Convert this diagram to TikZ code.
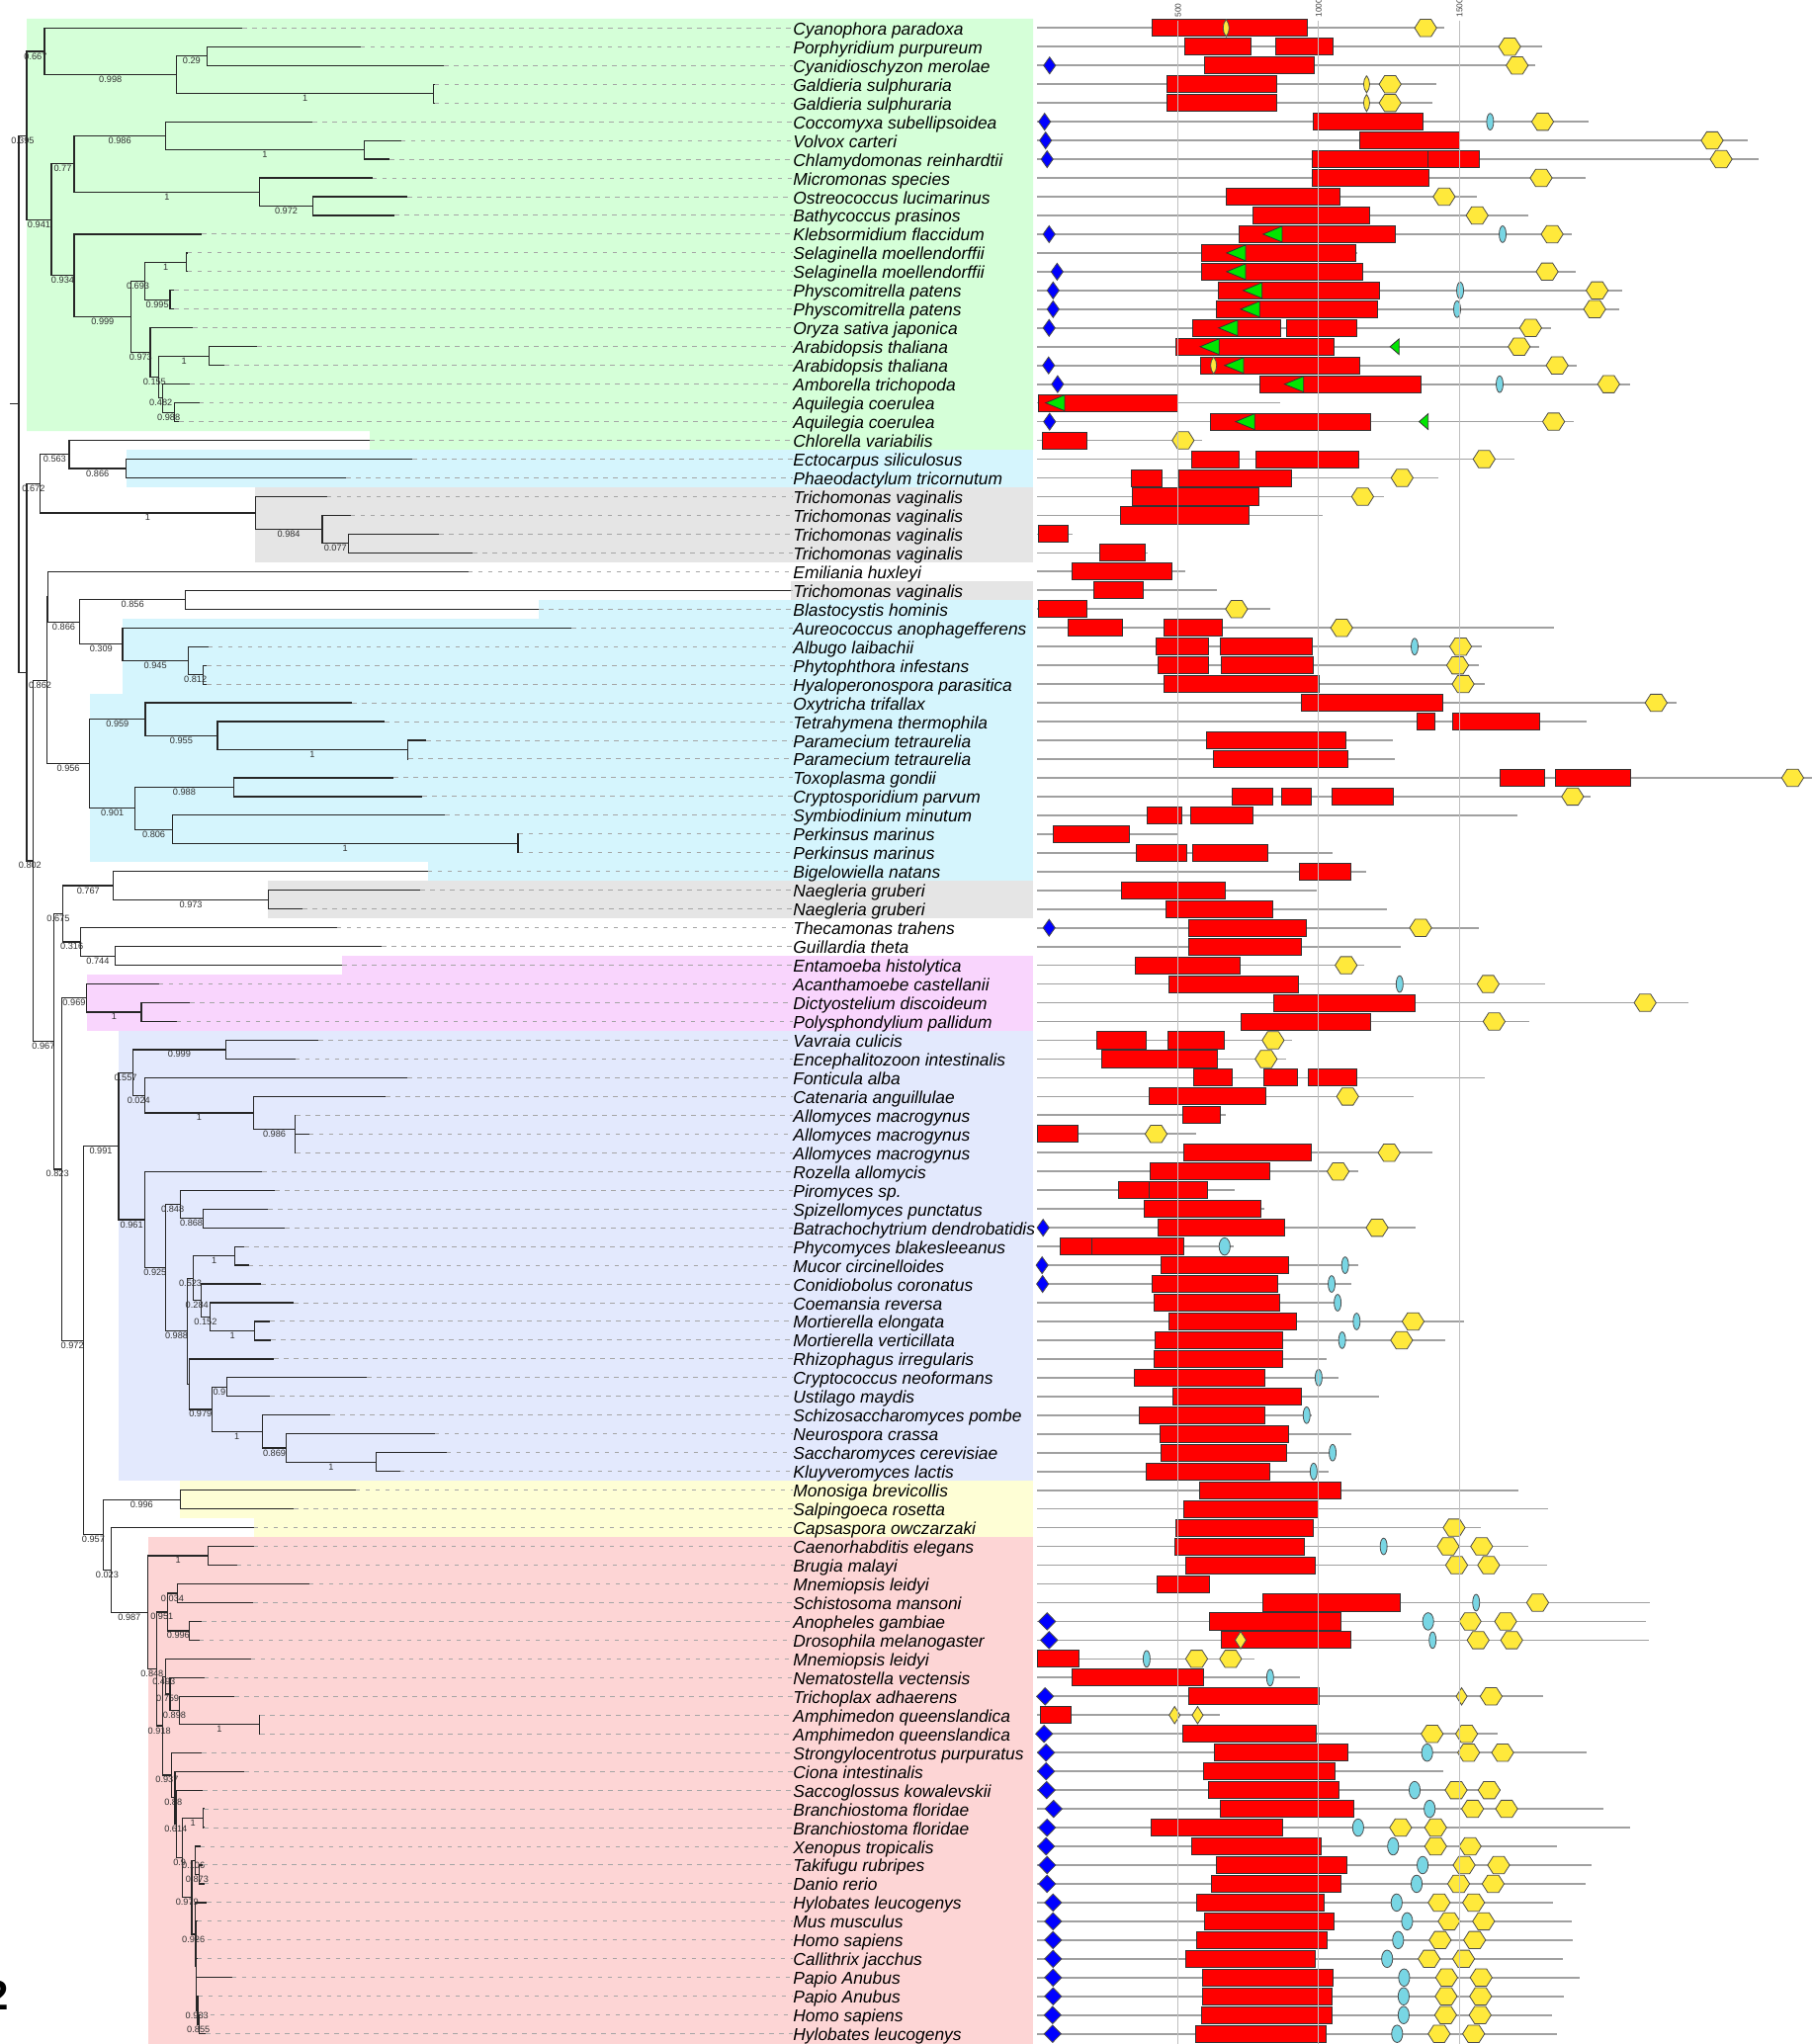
\documentclass[tikz,border=0pt]{standalone}
\usepackage{fontspec}
\setmainfont{Liberation Sans}
\usepackage{graphicx}
\definecolor{shgreen}{RGB}{213,255,216}
\definecolor{shblue}{RGB}{213,245,253}
\definecolor{shgray}{RGB}{229,229,229}
\definecolor{shpink}{RGB}{249,213,253}
\definecolor{shlav}{RGB}{227,233,253}
\definecolor{shyel}{RGB}{254,254,213}
\definecolor{shsal}{RGB}{253,213,213}
\definecolor{protgray}{RGB}{160,160,160}
\definecolor{hexyel}{RGB}{255,233,59}
\definecolor{ellcyan}{RGB}{120,214,228}
\definecolor{trigreen}{RGB}{0,230,0}
\newcommand\pLine[2]{\draw[protline] (18,#1) -- (#2,#1);}
\newcommand\pDom[3]{\draw[domred] (#2,#1-0.45) rectangle (#3,#1+0.45);}
\newcommand\pDia[2]{\draw[domblue] (#2-12,#1) -- (#2,#1-0.45) -- (#2+12,#1) -- (#2,#1+0.45) -- cycle;}
\newcommand\pDiaB[2]{\draw[domblue] (#2-17,#1) -- (#2,#1-0.46) -- (#2+17,#1) -- (#2,#1+0.46) -- cycle;}
\newcommand\pHex[2]{\draw[domhex] (#2-22,#1) -- (#2-11,#1-0.46) -- (#2+11,#1-0.46) -- (#2+22,#1) -- (#2+11,#1+0.46) -- (#2-11,#1+0.46) -- cycle;}
\newcommand\pEll[2]{\draw[domcyan] (#2,#1) ellipse [x radius=1.75pt, y radius=4.2pt];}
\newcommand\pEllB[2]{\draw[domcyan] (#2,#1) ellipse [x radius=2.8pt, y radius=4.4pt];}
\newcommand\pTri[2]{\draw[domgreen] (#2,#1) -- (#2+38,#1-0.42) -- (#2+38,#1+0.42) -- cycle;}
\newcommand\pSTri[2]{\draw[domgreen] (#2,#1) -- (#2+18,#1-0.42) -- (#2+18,#1+0.42) -- cycle;}
\newcommand\pLens[2]{\draw[domhex] (#2,#1-0.46) .. controls (#2+8,#1-0.2) and (#2+8,#1+0.2) .. (#2,#1+0.46) .. controls (#2-8,#1+0.2) and (#2-8,#1-0.2) .. (#2,#1-0.46);}
\newcommand\pYdia[2]{\draw[domhex] (#2-11,#1) -- (#2,#1-0.46) -- (#2+11,#1) -- (#2,#1+0.46) -- cycle;}
\begin{document}
\begin{tikzpicture}[x=0.5pt,y=-9.483pt,
  branch/.style={draw=black!85, line width=0.6pt},
  leafdash/.style={draw=black!35, line width=0.5pt, dash pattern=on 2.3pt off 2.7pt},
  taxon/.style={anchor=west, inner sep=0pt, font=\fontsize{8.7}{10}\selectfont\itshape, text height=8.8pt, text depth=1.8pt},
  bslab/.style={anchor=north, inner sep=0.5pt, font=\fontsize{4.6}{5}\selectfont, text=black!80},
  protline/.style={draw=protgray, line width=0.85pt},
  domred/.style={fill=red, draw=black!80, line width=0.45pt},
  domblue/.style={fill=blue, draw=black!70, line width=0.4pt},
  domhex/.style={fill=hexyel, draw=black!70, line width=0.4pt},
  domcyan/.style={fill=ellcyan, draw=black!70, line width=0.4pt},
  domgreen/.style={fill=trigreen, draw=black!80, line width=0.4pt},
  gridl/.style={draw=black!25, line width=0.45pt},
  ticklab/.style={font=\fontsize{4.2}{5}\selectfont, text=black!75, inner sep=0pt}]
\useasboundingbox[fill=white] (0,-0.492) rectangle (1833,108.545);
% clade shading
\fill[shgreen] (27,0.5) -- (1045,0.5) -- (1045,23.5) -- (374,23.5) -- (374,22.5) -- (27,22.5) -- cycle;
\fill[shblue] (127.6,23.5) rectangle (1045,25.5);
\fill[shgray] (258.2,25.5) rectangle (1045,29.5);
\fill[shgray] (800,30.5) rectangle (1045,31.5);
\fill[shblue] (544.9,31.5) rectangle (1045,32.5);
\fill[shblue] (124,32.5) rectangle (1045,36.5);
\fill[shblue] (90.8,36.5) rectangle (1045,45.5);
\fill[shblue] (432.7,45.5) rectangle (1045,46.5);
\fill[shgray] (271.4,46.5) rectangle (1045,48.5);
\fill[shpink] (345.9,50.5) rectangle (1045,51.5);
\fill[shpink] (87.8,51.5) rectangle (1045,54.5);
\fill[shlav] (119.9,54.5) rectangle (1045,78.5);
\fill[shyel] (182.1,78.5) rectangle (1045,80.5);
\fill[shyel] (256.6,80.5) rectangle (1045,81.5);
\fill[shsal] (149.5,81.5) rectangle (1045,108.545);
% internal nodes
\foreach \nd/\nx/\ny in {root/19.0/21.05, U/27.0/6.74, D/44.9/2.25, C/178.6/3.5, A/209.2/2.5, B/438.8/4.5, T/52.0/11.23, I/75.0/8.25, F/167.3/6.75, E/368.4/7.5, H/262.8/9.75, G/316.3/10.5, S/75.0/14.2, R/132.7/16.41, L/146.4/14.5, J/188.8/13.5, K/171.9/15.5, Q/152.0/18.31, P/160.7/19.625, M/211.7/18.5, O/164.8/20.75, N/176.5/21.5, AB/27.0/35.37, AA/40.8/25.31, W/69.9/23.75, V/127.6/24.5, Z/258.2/26.875, Y/326.0/27.75, X/352.6/28.5, AM/33.7/45.43, AK/47.4/35.8, AJ/48.4/31.345, AI/80.6/32.69, AE/187.8/31.5, AH/124.0/33.875, AG/190.3/34.75, AF/205.1/35.5, AL/90.8/40.25, CU/146.9/37.875, CV/219.9/38.75, CW/412.2/39.5, CX/136.7/42.625, CY/236.2/41.5, CZ/174.5/43.75, DA/524.0/44.5, AN/54.1/55.07, AO/63.8/48.25, AP/114.8/46.75, AQ/271.4/47.5, AR/81.6/49.75, AS/116.3/50.5, AT/62.2/61.88, AU/87.8/52.75, AV/142.9/53.5, AW/84.2/71.01, AX/119.9/60.64, AY/134.2/56.72, AZ/228.6/55.5, BA/146.4/57.94, BB/256.6/58.875, BC/298.5/59.75, BD/146.4/64.57, BE/167.3/67.13, BF/182.1/63.75, BG/205.1/64.5, BH/189.8/70.52, BN/195.4/67.69, BI/237.8/66.5, BM/203.1/68.875, BL/212.8/69.75, BK/257.7/70.5, BT/191.3/73.34, BS/214.3/74.69, BO/229.6/73.5, BR/265.3/75.875, BQ/289.8/76.75, BP/380.1/77.5, BU/104.6/81.38, BV/182.1/79.5, BW/112.2/83.26, BX/149.5/85.52, BY/210.7/82.5, BZ/158.2/88.535, CC/169.4/85.5, CA/179.6/84.5, CB/191.3/86.5, CD/164.3/91.57, CH/167.3/88.94, CG/171.9/89.875, CF/181.1/90.75, CE/262.8/91.5, CI/173.5/94.2, CK/177.0/95.4, CL/178.6/96.8, CM/184.7/98.61, CJ/205.6/96.5, CN/193.9/100.72, CO/197.4/98.75, CP/201.5/99.5, CQ/197.4/102.69, CR/198.5/104.375, CS/200.0/106.75, CT/201.5/107.5}
  {\coordinate (\nd) at (\nx,\ny);}
\coordinate (stem) at (10.2,21.05);
\draw[branch] (stem) -- (root);
\foreach \nd/\pa/\lb in {U/root/0.395, D/U/0.667, C/D/0.998, A/C/0.29, B/C/1, T/U/0.941, I/T/0.77, F/I/0.986, E/F/1, H/I/1, G/H/0.972, S/T/0.934, R/S/0.999, L/R/0.693, J/L/1, K/L/0.995, Q/R/0.973, P/Q/0.155, M/P/1, O/P/0.482, N/O/0.988, AB/root/, AA/AB/0.672, W/AA/0.563, V/W/0.866, Z/AA/1, Y/Z/0.984, X/Y/0.077, AM/AB/0.802, AK/AM/0.862, AJ/AK/, AI/AJ/0.866, AE/AI/0.856, AH/AI/0.309, AG/AH/0.945, AF/AG/0.812, AL/AK/0.956, CU/AL/0.959, CV/CU/0.955, CW/CV/1, CX/AL/0.901, CY/CX/0.988, CZ/CX/0.806, DA/CZ/1, AN/AM/0.967, AO/AN/0.675, AP/AO/0.767, AQ/AP/0.973, AR/AO/0.316, AS/AR/0.744, AT/AN/0.823, AU/AT/0.969, AV/AU/1, AW/AT/0.972, AX/AW/0.991, AY/AX/0.557, AZ/AY/0.999, BA/AY/0.024, BB/BA/1, BC/BB/0.986, BD/AX/0.961, BE/BD/0.925, BF/BE/0.848, BG/BF/0.868, BH/BE/0.988, BN/BH/0.523, BI/BN/1, BM/BN/0.284, BL/BM/0.152, BK/BL/1, BT/BH/, BS/BT/0.979, BO/BS/0.9, BR/BS/1, BQ/BR/0.869, BP/BQ/1, BU/AW/0.957, BV/BU/0.996, BW/BU/0.023, BX/BW/0.987, BY/BX/1, BZ/BX/0.848, CC/BZ/0.951, CA/CC/0.034, CB/CC/0.996, CD/BZ/0.918, CH/CD/0.493, CG/CH/0.759, CF/CG/0.898, CE/CF/1, CI/CD/0.937, CK/CI/0.88, CL/CK/0.614, CM/CL/0.9, CJ/CM/1, CN/CM/0.979, CO/CN/0.106, CP/CO/0.873, CQ/CN/0.926, CR/CQ/, CS/CR/0.933, CT/CS/0.855}
  {\draw[branch] (\pa) |- (\nd) node[bslab,pos=0.75] {\lb};}
% leaves
\foreach \rw/\lx/\lp/\tn in {1/244.9/D/Cyanophora paradoxa, 2/364.8/A/Porphyridium purpureum, 3/449.0/A/Cyanidioschyzon merolae, 4/439.5/B/Galdieria sulphuraria, 5/439.5/B/Galdieria sulphuraria, 6/316.3/F/Coccomyxa subellipsoidea, 7/405.6/E/Volvox carteri, 8/393.9/E/Chlamydomonas reinhardtii, 9/376.5/H/Micromonas species, 10/412.2/G/Ostreococcus lucimarinus, 11/399.0/G/Bathycoccus prasinos, 12/204.1/S/Klebsormidium flaccidum, 13/189.5/J/Selaginella moellendorffii, 14/189.5/J/Selaginella moellendorffii, 15/176.0/K/Physcomitrella patens, 16/176.0/K/Physcomitrella patens, 17/195.4/Q/Oryza sativa japonica, 18/260.2/M/Arabidopsis thaliana, 19/227.0/M/Arabidopsis thaliana, 20/192.3/O/Amborella trichopoda, 21/201.5/N/Aquilegia coerulea, 22/181.1/N/Aquilegia coerulea, 23/374.0/W/Chlorella variabilis, 24/417.3/V/Ectocarpus siliculosus, 25/350.0/V/Phaeodactylum tricornutum, 26/330.6/Z/Trichomonas vaginalis, 27/354.6/Y/Trichomonas vaginalis, 28/443.9/X/Trichomonas vaginalis, 29/478.1/X/Trichomonas vaginalis, 30/473.5/AJ/Emiliania huxleyi, 31/800/AE/Trichomonas vaginalis, 32/544.9/AE/Blastocystis hominis, 33/578.1/AH/Aureococcus anophagefferens, 34/210.7/AG/Albugo laibachii, 35/209.2/AF/Phytophthora infestans, 36/209.2/AF/Hyaloperonospora parasitica, 37/356.1/CU/Oxytricha trifallax, 38/389.3/CV/Tetrahymena thermophila, 39/431.1/CW/Paramecium tetraurelia, 40/413.0/CW/Paramecium tetraurelia, 41/398.0/CY/Toxoplasma gondii, 42/427.0/CY/Cryptosporidium parvum, 43/450.0/CZ/Symbiodinium minutum, 44/524.5/DA/Perkinsus marinus, 45/524.5/DA/Perkinsus marinus, 46/432.7/AP/Bigelowiella natans, 47/425.0/AQ/Naegleria gruberi, 48/306.1/AQ/Naegleria gruberi, 49/340.8/AR/Thecamonas trahens, 50/386.2/AS/Guillardia theta, 51/345.9/AS/Entamoeba histolytica, 52/160.7/AU/Acanthamoebe castellanii, 53/192.3/AV/Dictyostelium discoideum, 54/178.6/AV/Polysphondylium pallidum, 55/322.4/AZ/Vavraia culicis, 56/298.5/AZ/Encephalitozoon intestinalis, 57/412.2/BA/Fonticula alba, 58/390.3/BB/Catenaria anguillulae, 59/299.0/BC/Allomyces macrogynus, 60/312.8/BC/Allomyces macrogynus, 61/299.0/BC/Allomyces macrogynus, 62/265.3/BD/Rozella allomycis, 63/278.1/BF/Piromyces sp., 64/271.4/BG/Spizellomyces punctatus, 65/288.3/BG/Batrachochytrium dendrobatidis, 66/247.4/BI/Phycomyces blakesleeanus, 67/251.5/BI/Mucor circinelloides, 68/264.3/BM/Conidiobolus coronatus, 69/297.4/BL/Coemansia reversa, 70/273.0/BK/Mortierella elongata, 71/274.0/BK/Mortierella verticillata, 72/277.0/BT/Rhizophagus irregularis, 73/370.9/BO/Cryptococcus neoformans, 74/273.0/BO/Ustilago maydis, 75/334.2/BR/Schizosaccharomyces pombe, 76/439.8/BQ/Neurospora crassa, 77/451.5/BP/Saccharomyces cerevisiae, 78/404.6/BP/Kluyveromyces lactis, 79/359.7/BV/Monosiga brevicollis, 80/297.4/BV/Salpingoeca rosetta, 81/256.6/BW/Capsaspora owczarzaki, 82/256.6/BY/Caenorhabditis elegans, 83/239.8/BY/Brugia malayi, 84/312.8/CA/Mnemiopsis leidyi, 85/256.1/CA/Schistosoma mansoni, 86/204.1/CB/Anopheles gambiae, 87/201.5/CB/Drosophila melanogaster, 88/253.6/CH/Mnemiopsis leidyi, 89/206.6/CG/Nematostella vectensis, 90/237.2/CF/Trichoplax adhaerens, 91/263.3/CE/Amphimedon queenslandica, 92/263.3/CE/Amphimedon queenslandica, 93/204.1/CI/Strongylocentrotus purpuratus, 94/247.4/CK/Ciona intestinalis, 95/205.1/CL/Saccoglossus kowalevskii, 96/206.1/CJ/Branchiostoma floridae, 97/206.1/CJ/Branchiostoma floridae, 98/202.6/CO/Xenopus tropicalis, 99/205.0/CP/Takifugu rubripes, 100/206.6/CP/Danio rerio, 101/209.2/CQ/Hylobates leucogenys, 102/199.5/CR/Mus musculus, 103/199.5/CR/Homo sapiens, 104/199.5/CR/Callithrix jacchus, 105/234.7/CR/Papio Anubus, 106/200.5/CS/Papio Anubus, 107/202.5/CT/Homo sapiens, 108/208.2/CT/Hylobates leucogenys}
  {\coordinate (L\rw) at (\lx,\rw);
   \node[taxon] (N\rw) at (802,\rw) {\tn};
   \draw[branch] (\lp) |- (L\rw);
   \draw[leafdash] (L\rw) -- (N\rw.west);}
\node[font=\fontsize{21}{21}\selectfont\bfseries, anchor=base east, inner sep=0pt] (fignum) at (9,106.71) {2};
% domain panel
\begin{scope}[shift={(1040,0)}, x=0.25291pt]
\pLine{1}{833}\pDom{1}{247}{558}\pLens{1}{396}\pHex{1}{795}
\pLine{2}{1027}\pDom{2}{313}{445}\pDom{2}{495}{610}\pHex{2}{963}
\pLine{3}{1015}\pDia{3}{43}\pDom{3}{352}{573}\pHex{3}{978}
\pLine{4}{817}\pDom{4}{278}{497}\pLens{4}{677}\pHex{4}{724}
\pLine{5}{808}\pDom{5}{278}{497}\pLens{5}{677}\pHex{5}{724}
\pLine{6}{1120}\pDia{6}{33}\pDom{6}{571}{789}\pEll{6}{924}\pHex{6}{1029}
\pLine{7}{1440}\pDia{7}{35}\pDom{7}{663}{863}\pHex{7}{1368}
\pLine{8}{1460}\pDia{8}{38}\pDom{8}{568}{799}\pDom{8}{799}{903}\pHex{8}{1386}
\pLine{9}{1114}\pDom{9}{568}{802}\pHex{9}{1026}
\pLine{10}{897}\pDom{10}{396}{623}\pHex{10}{832}
\pLine{11}{1000}\pDom{11}{449}{683}\pHex{11}{898}
\pLine{12}{1087}\pDia{12}{42}\pDom{12}{422}{735}\pTri{12}{470}\pEll{12}{949}\pHex{12}{1048}
\pLine{13}{658}\pDom{13}{346}{655}\pTri{13}{397}
\pLine{14}{1096}\pDia{14}{58}\pDom{14}{347}{669}\pTri{14}{397}\pHex{14}{1038}
\pLine{15}{1189}\pDia{15}{50}\pDom{15}{380}{702}\pTri{15}{430}\pEll{15}{864}\pHex{15}{1138}
\pLine{16}{1183}\pDia{16}{50}\pDom{16}{376}{698}\pTri{16}{425}\pEll{16}{858}\pHex{16}{1133}
\pLine{17}{1045}\pDia{17}{42}\pDom{17}{330}{505}\pDom{17}{517}{658}\pTri{17}{381}\pHex{17}{1005}
\pLine{18}{1023}\pDom{18}{296}{612}\pTri{18}{344}\pSTri{18}{724}\pHex{18}{982}
\pLine{19}{1098}\pDia{19}{41}\pDom{19}{344}{663}\pLens{19}{371}\pTri{19}{393}\pHex{19}{1058}
\pLine{20}{1203}\pDia{20}{59}\pDom{20}{464}{786}\pTri{20}{513}\pEll{20}{943}\pHex{20}{1161}
\pLine{21}{505}\pDom{21}{21}{300}\pTri{21}{35}
\pLine{22}{1092}\pDia{22}{43}\pDom{22}{365}{685}\pTri{22}{415}\pSTri{22}{782}\pHex{22}{1051}
\pLine{23}{347}\pDom{23}{28}{117}\pHex{23}{310}
\pLine{24}{972}\pDom{24}{328}{422}\pDom{24}{455}{661}\pHex{24}{912}
\pLine{25}{820}\pDom{25}{207}{267}\pDom{25}{302}{527}\pHex{25}{748}
\pLine{26}{711}\pDom{26}{209}{462}\pHex{26}{669}
\pLine{27}{590}\pDom{27}{185}{442}
\pLine{28}{88}\pDom{28}{20}{80}
\pLine{29}{240}\pDom{29}{143}{234}
\pLine{30}{315}\pDom{30}{88}{288}
\pLine{31}{378}\pDom{31}{132}{231}
\pLine{32}{485}\pDom{32}{20}{118}\pHex{32}{417}
\pLine{33}{1051}\pDom{33}{80}{188}\pDom{33}{272}{388}\pHex{33}{627}
\pLine{34}{907}\pDom{34}{256}{360}\pDom{34}{384}{568}\pEll{34}{773}\pHex{34}{865}
\pLine{35}{901}\pDom{35}{259}{361}\pDom{35}{387}{570}\pHex{35}{859}
\pLine{36}{913}\pDom{36}{272}{582}\pHex{36}{870}
\pLine{37}{1296}\pDom{37}{546}{829}\pHex{37}{1256}
\pLine{38}{1116}\pDom{38}{777}{814}\pDom{38}{849}{1022}
\pLine{39}{729}\pDom{39}{357}{636}
\pLine{40}{733}\pDom{40}{371}{640}
\pLine{41}{1568}\pDom{41}{943}{1033}\pDom{41}{1054}{1205}\pHex{41}{1529}
\pLine{42}{1124}\pDom{42}{409}{489}\pDom{42}{507}{566}\pDom{42}{608}{731}\pHex{42}{1089}
\pLine{43}{978}\pDom{43}{238}{307}\pDom{43}{325}{450}
\pLine{44}{301}\pDom{44}{51}{203}
\pLine{45}{608}\pDom{45}{217}{317}\pDom{45}{330}{480}
\pLine{46}{677}\pDom{46}{542}{646}
\pLine{47}{578}\pDom{47}{187}{394}
\pLine{48}{717}\pDom{48}{275}{489}
\pLine{49}{901}\pDia{49}{42}\pDom{49}{321}{557}\pHex{49}{785}
\pLine{50}{746}\pDom{50}{321}{547}
\pLine{51}{673}\pDom{51}{215}{423}\pHex{51}{636}
\pLine{52}{1033}\pDom{52}{281}{541}\pEll{52}{743}\pHex{52}{920}
\pLine{53}{1320}\pDom{53}{491}{774}\pHex{53}{1234}
\pLine{54}{1003}\pDom{54}{425}{685}\pHex{54}{932}
\pLine{55}{527}\pDom{55}{137}{236}\pDom{55}{280}{392}\pHex{55}{490}
\pLine{56}{515}\pDom{56}{147}{379}\pHex{56}{476}
\pLine{57}{913}\pDom{57}{332}{408}\pDom{57}{471}{539}\pDom{57}{561}{657}
\pLine{58}{770}\pDom{58}{243}{476}\pHex{58}{639}
\pLine{59}{396}\pDom{59}{309}{385}
\pLine{60}{337}\pDom{60}{18}{100}\pHex{60}{256}
\pLine{61}{808}\pDom{61}{311}{566}\pHex{61}{722}
\pLine{62}{661}\pDom{62}{244}{484}\pHex{62}{620}
\pLine{63}{414}\pDom{63}{181}{243}\pDom{63}{243}{359}
\pLine{64}{472}\pDom{64}{232}{466}
\pLine{65}{774}\pDia{65}{30}\pDom{65}{260}{513}\pHex{65}{698}
\pLine{66}{412}\pDom{66}{65}{128}\pDom{66}{128}{311}\pEllB{66}{393}
\pLine{67}{661}\pDia{67}{28}\pDom{67}{265}{521}\pEll{67}{634}
\pLine{68}{646}\pDia{68}{29}\pDom{68}{247}{500}\pEll{68}{607}
\pLine{69}{627}\pDom{69}{251}{503}\pEll{69}{619}
\pLine{70}{871}\pDom{70}{282}{537}\pEll{70}{657}\pHex{70}{770}
\pLine{71}{835}\pDom{71}{254}{508}\pEll{71}{628}\pHex{71}{747}
\pLine{72}{597}\pDom{72}{252}{509}
\pLine{73}{620}\pDom{73}{213}{474}\pEll{73}{581}
\pLine{74}{701}\pDom{74}{290}{546}
\pLine{75}{568}\pDom{75}{222}{473}\pEll{75}{557}
\pLine{76}{646}\pDom{76}{263}{521}
\pLine{77}{602}\pDom{77}{266}{516}\pEll{77}{609}
\pLine{78}{600}\pDom{78}{237}{483}\pEll{78}{571}
\pLine{79}{980}\pDom{79}{343}{625}
\pLine{80}{1040}\pDom{80}{311}{581}
\pLine{81}{905}\pDom{81}{295}{571}\pHex{81}{852}
\pLine{82}{1000}\pDom{82}{294}{552}\pEll{82}{711}\pHex{82}{840}\pHex{82}{907}
\pLine{83}{1037}\pDom{83}{316}{574}\pHex{83}{857}\pHex{83}{921}
\pLine{84}{363}\pDom{84}{258}{363}
\pLine{85}{1243}\pDom{85}{470}{744}\pEll{85}{896}\pHex{85}{1019}
\pLine{86}{1235}\pDiaB{86}{38}\pDom{86}{363}{626}\pEllB{86}{800}\pHex{86}{884}\pHex{86}{955}
\pLine{87}{1241}\pDiaB{87}{42}\pDom{87}{386}{646}\pYdia{87}{425}\pEll{87}{809}\pHex{87}{900}\pHex{87}{967}
\pLine{88}{452}\pDom{88}{18}{102}\pEll{88}{237}\pHex{88}{337}\pHex{88}{405}
\pLine{89}{543}\pDom{89}{87}{350}\pEll{89}{484}
\pLine{90}{1029}\pDiaB{90}{34}\pDom{90}{322}{582}\pYdia{90}{867}\pHex{90}{926}
\pLine{91}{383}\pDom{91}{25}{86}\pYdia{91}{293}\pYdia{91}{339}
\pLine{92}{940}\pDiaB{92}{32}\pDom{92}{309}{576}\pHex{92}{808}\pHex{92}{877}
\pLine{93}{1116}\pDiaB{93}{36}\pDom{93}{372}{640}\pEllB{93}{798}\pHex{93}{881}\pHex{93}{949}
\pLine{94}{831}\pDiaB{94}{36}\pDom{94}{350}{613}
\pLine{95}{945}\pDiaB{95}{37}\pDom{95}{361}{622}\pEllB{95}{773}\pHex{95}{856}\pHex{95}{922}
\pLine{96}{1150}\pDiaB{96}{51}\pDom{96}{384}{652}\pEllB{96}{803}\pHex{96}{889}\pHex{96}{957}
\pLine{97}{1203}\pDiaB{97}{38}\pDom{97}{246}{508}\pEllB{97}{660}\pHex{97}{745}\pHex{97}{815}
\pLine{98}{1057}\pDiaB{98}{36}\pDom{98}{327}{587}\pEllB{98}{730}\pHex{98}{815}\pHex{98}{884}
\pLine{99}{1126}\pDiaB{99}{38}\pDom{99}{377}{637}\pEllB{99}{789}\pHex{99}{872}\pHex{99}{941}
\pLine{100}{1114}\pDiaB{100}{38}\pDom{100}{367}{626}\pEllB{100}{777}\pHex{100}{861}\pHex{100}{930}
\pLine{101}{1049}\pDiaB{101}{50}\pDom{101}{337}{591}\pEllB{101}{737}\pHex{101}{822}\pHex{101}{891}
\pLine{102}{1088}\pDiaB{102}{50}\pDom{102}{352}{612}\pEllB{102}{758}\pHex{102}{842}\pHex{102}{911}
\pLine{103}{1090}\pDiaB{103}{50}\pDom{103}{337}{597}\pEllB{103}{740}\pHex{103}{824}\pHex{103}{893}
\pLine{104}{1069}\pDiaB{104}{50}\pDom{104}{315}{575}\pEllB{104}{718}\pHex{104}{802}\pHex{104}{871}
\pLine{105}{1104}\pDiaB{105}{50}\pDom{105}{349}{609}\pEllB{105}{752}\pHex{105}{837}\pHex{105}{906}
\pLine{106}{1071}\pDiaB{106}{50}\pDom{106}{348}{608}\pEllB{106}{751}\pHex{106}{836}\pHex{106}{905}
\pLine{107}{1047}\pDiaB{107}{49}\pDom{107}{347}{608}\pEllB{107}{751}\pHex{107}{835}\pHex{107}{904}
\pLine{108}{1057}\pDiaB{108}{49}\pDom{108}{335}{595}\pEllB{108}{738}\pHex{108}{822}\pHex{108}{891}
% scale grid
\foreach \gx/\gl in {300/500, 581/1000, 863/1500}
  {\draw[gridl] (\gx,0.6) -- (\gx,108.545);
   \node[ticklab, rotate=90, anchor=west] (tick\gl) at (\gx,0.46) {\gl};}
\end{scope}
\end{tikzpicture}
\end{document}
